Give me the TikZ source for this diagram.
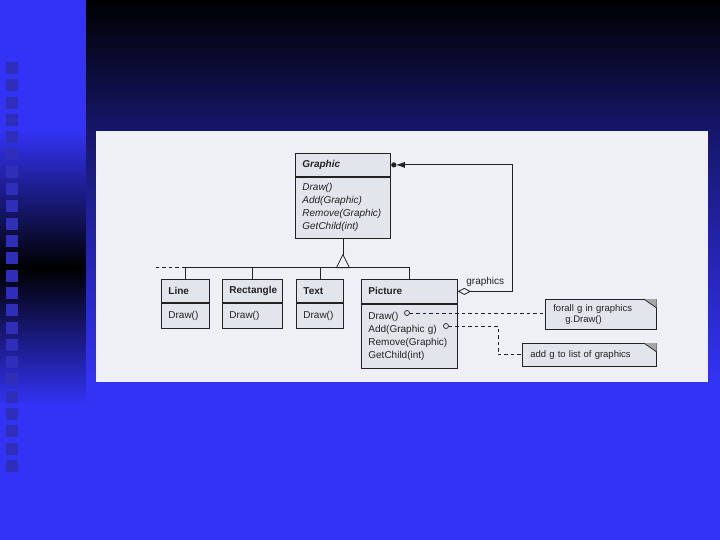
\documentclass[tikz,border=0pt]{standalone}
\usepackage{fontspec}
\setmainfont{Liberation Sans}
\usepackage{tikz}
\usetikzlibrary{positioning,arrows.meta,calc}
\definecolor{slide}{HTML}{3333F6}
\definecolor{navy}{HTML}{17176E}
\definecolor{tile}{HTML}{2E2EB8}
\definecolor{panel}{HTML}{EEF0F6}
\definecolor{boxfill}{HTML}{E3E5EC}
\definecolor{ink}{HTML}{222222}

\begin{document}
\begin{tikzpicture}[
    x=1pt, y=-1pt,
    every node/.style={font=\fontsize{10}{13}\selectfont, text=ink},
    hd/.style={draw=ink, fill=boxfill, line width=0.8pt, inner xsep=7pt, inner ysep=0pt, align=left, anchor=north west, font=\fontsize{10}{13}\selectfont\bfseries},
    bd/.style={draw=ink, fill=boxfill, line width=0.8pt, inner xsep=7pt, inner ysep=0pt, align=left},
    note/.style={draw=ink, fill=boxfill, line width=0.7pt, inner xsep=8pt, inner ysep=0pt, align=left, anchor=north west, font=\fontsize{9.5}{10.5}\selectfont},
    conn/.style={draw=ink, line width=0.8pt},
    dep/.style={draw=ink, line width=0.9pt, dash pattern=on 3.5pt off 3pt}
  ]
    % slide background
    \useasboundingbox (0,0) rectangle (720,540);
    \fill[slide] (0,0) rectangle (86,540);
    \shade[top color=slide, bottom color=slide, middle color=black] (0,130) rectangle (86,405);
    \foreach \i in {0,...,23}
      \fill[tile] (6,{62+17.3*\i}) rectangle ++(12,12);
    \shade[top color=black, bottom color=navy] (86,0) rectangle (720,135);
    \shade[top color=navy, bottom color=slide] (86,135) rectangle (720,385);
    \fill[slide] (86,385) rectangle (720,540);
    \fill[panel] (96,131) rectangle (708,382);

    % classes
    \node[hd, text width=81pt, minimum height=23pt, font=\fontsize{10}{13}\selectfont\bfseries\itshape] (gh) at (295,153) {Graphic};
    \node[bd, text width=81pt, minimum height=61pt, below=0pt of gh, font=\fontsize{10}{13}\selectfont\itshape] (gb) {Draw()\\Add(Graphic)\\Remove(Graphic)\\GetChild(int)};

    \node[hd, text width=34pt, minimum height=23pt] (line) at (161,279) {Line};
    \node[bd, text width=34pt, minimum height=25pt, below=0pt of line] (lineb) {Draw()};
    \node[hd, text width=46pt, minimum height=23pt] (rect) at (222,279) {Rectangle};
    \node[bd, text width=46pt, minimum height=25pt, below=0pt of rect] (rectb) {Draw()};
    \node[hd, text width=33pt, minimum height=23pt] (text) at (296,279) {Text};
    \node[bd, text width=33pt, minimum height=25pt, below=0pt of text] (textb) {Draw()};
    \node[hd, text width=82pt, minimum height=24pt] (pic) at (361,279) {Picture};
    \node[bd, text width=82pt, minimum height=64pt, below=0pt of pic] (picb) {Draw()\\Add(Graphic g)\\Remove(Graphic)\\GetChild(int)};
    \foreach \c in {line,rect,text,pic}
      \draw[ink, line width=1.5pt] (\c.south west) -- (\c.south east);

    % notes
    \node[note, text width=95pt, minimum height=30pt] (n1) at (545,299) {forall g in graphics\\\hspace*{12pt}g.Draw()};
    \node[note, text width=118pt, minimum height=23pt] (n2) at (522,343) {add g to list of graphics};
    \foreach \n in {n1,n2} {
      \fill[gray!70] ([xshift=-13pt]\n.north east) -- (\n.north east) -- ([yshift=-9pt]\n.north east) -- cycle;
      \draw[ink, line width=0.7pt] ([xshift=-13pt]\n.north east) -- ([yshift=-9pt]\n.north east);
    }

    % inheritance
    \draw[conn] (gb.south) -- ++(0,16) coordinate (tip);
    \draw[conn, fill=panel] (tip) -- ++(-6.5,13) coordinate (tl) -- ++(13,0) -- cycle;
    \draw[conn] (line.north) |- (tl) -| (pic.north);
    \draw[conn] (rect.north) -- (rect.north |- tl);
    \draw[conn] (text.north) -- (text.north |- tl);
    \draw[dep] (line.north |- tl) -- ++(-32,0);

    % aggregation
    \draw[conn, {Diamond[open, length=13pt, width=7pt]}-{Latex[length=9pt, width=6pt]}, shorten >=5pt]
      (pic.east) -- ++(55,0) node[midway, above=1pt] {graphics} |- (gh.east);
    \fill[ink] ($(gh.east)+(3,0)$) circle (2.6pt);

    % note links
    \coordinate (o1) at (407,313);
    \coordinate (o2) at (446,326);
    \draw[dep, shorten <=2.5pt] (o1) -- (o1 -| n1.west);
    \draw[dep, shorten <=2.5pt] (o2) -- ++(52,0) |- (n2.west);
    \draw[ink, fill=boxfill, line width=0.7pt] (o1) circle (2.5pt);
    \draw[ink, fill=boxfill, line width=0.7pt] (o2) circle (2.5pt);
  \end{tikzpicture}
\end{document}
